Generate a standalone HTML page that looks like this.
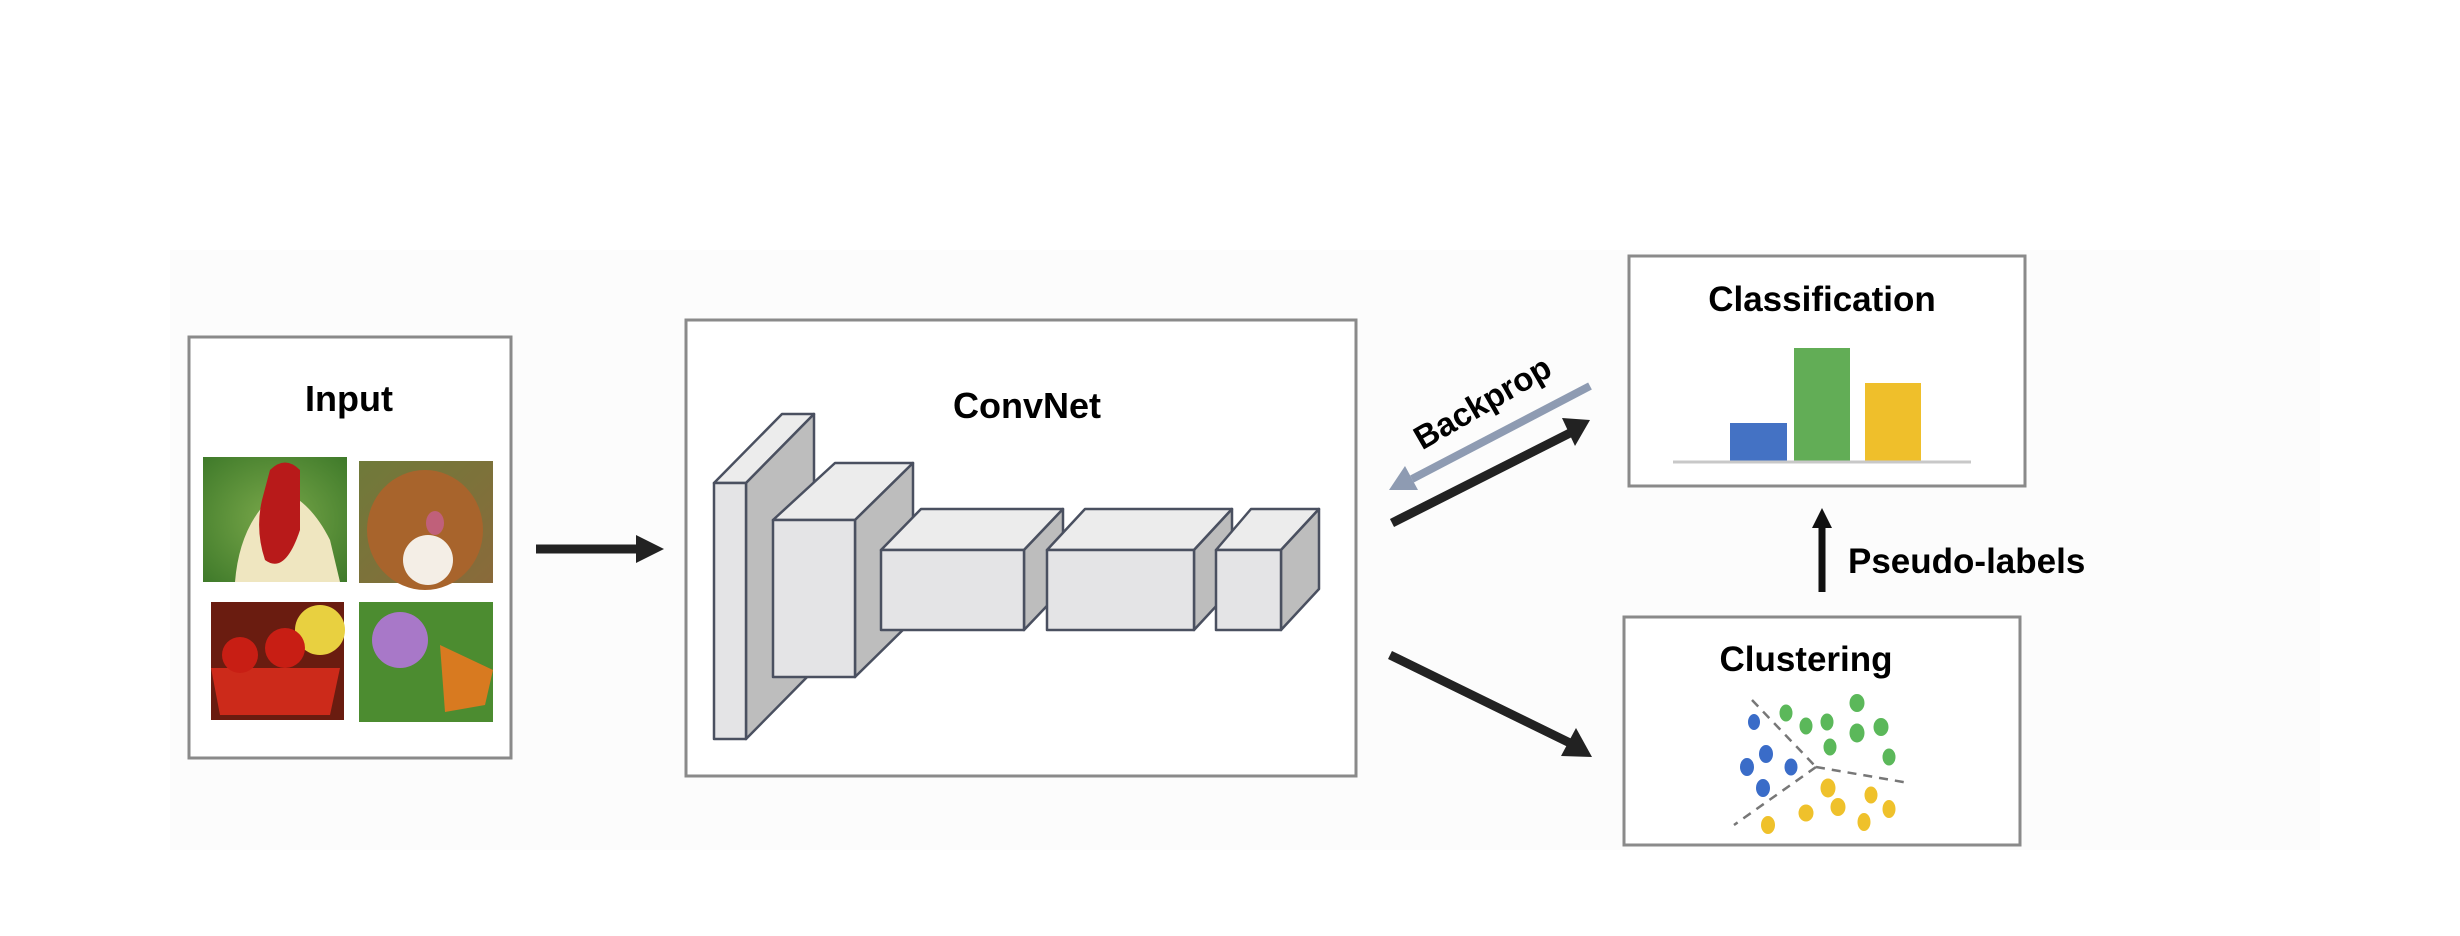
<!DOCTYPE html>
<html><head><meta charset="utf-8"><style>
html,body{margin:0;padding:0;background:#fff;}
svg{display:block;}
text{font-family:"Liberation Sans",sans-serif;font-weight:bold;fill:#000;}
</style></head><body>
<svg width="2460" height="936" viewBox="0 0 2460 936" xmlns="http://www.w3.org/2000/svg">
<defs>
<radialGradient id="gr" cx="0.5" cy="0.5" r="0.7"><stop offset="0" stop-color="#7aa84a"/><stop offset="1" stop-color="#3f7a2a"/></radialGradient>
<linearGradient id="dogbg" x1="0" y1="0" x2="1" y2="1"><stop offset="0" stop-color="#6f7a3a"/><stop offset="1" stop-color="#8a6a3a"/></linearGradient>
</defs>
<rect x="0" y="0" width="2460" height="936" fill="#fff"/>
<rect x="170" y="250" width="2150" height="600" fill="#fcfcfc"/>

<rect x="189" y="337" width="322" height="421" fill="#fff" stroke="#8a8a8a" stroke-width="3"/>
<text x="349" y="411" font-size="36" text-anchor="middle">Input</text>
<rect x="203" y="457" width="144" height="125" fill="url(#gr)"/>
<path d="M235 582 Q240 520 280 490 Q310 500 330 540 L340 582 Z" fill="#efe6c0"/>
<path d="M270 470 Q285 455 300 470 L300 530 Q285 575 265 560 Q255 530 262 500 Z" fill="#b81a1a"/>
<rect x="359" y="461" width="134" height="122" fill="url(#dogbg)"/>
<ellipse cx="425" cy="530" rx="58" ry="60" fill="#a8642c"/>
<ellipse cx="428" cy="560" rx="25" ry="25" fill="#f4eee6"/>
<ellipse cx="435" cy="523" rx="9" ry="12" fill="#c0607a"/>
<rect x="211" y="602" width="133" height="118" fill="#6a1c10"/>
<ellipse cx="320" cy="630" rx="25" ry="25" fill="#e8d040"/>
<path d="M211 668 L340 668 L330 715 L220 715 Z" fill="#cc2a1a"/>
<circle cx="240" cy="655" r="18" fill="#c81e14"/>
<circle cx="285" cy="648" r="20" fill="#c81e14"/>
<rect x="359" y="602" width="134" height="120" fill="#4c8c30"/>
<circle cx="400" cy="640" r="28" fill="#a878c8"/>
<path d="M440 645 L493 670 L485 705 L445 712 Z" fill="#d87a20"/>

<line x1="536" y1="549" x2="640" y2="549" stroke="#222" stroke-width="9"/>
<polygon points="636,535 664,549 636,563" fill="#222"/>

<rect x="686" y="320" width="670" height="456" fill="#fff" stroke="#8a8a8a" stroke-width="3"/>
<text x="1027" y="418" font-size="36" text-anchor="middle">ConvNet</text>

<g stroke="#4a5060" stroke-width="2.5" stroke-linejoin="round">
<polygon points="714,483 782,414 814,414 746,483" fill="#ececec"/>
<polygon points="746,483 814,414 814,670 746,739" fill="#bdbdbd"/>
<rect x="714" y="483" width="32" height="256" fill="#e4e4e6"/>
<polygon points="773,520 835,463 913,463 855,520" fill="#ececec"/>
<polygon points="855,520 913,463 913,620 855,677" fill="#bdbdbd"/>
<rect x="773" y="520" width="82" height="157" fill="#e4e4e6"/>
<polygon points="881,550 921,509 1063,509 1024,550" fill="#ececec"/>
<polygon points="1024,550 1063,509 1063,589 1024,630" fill="#bdbdbd"/>
<rect x="881" y="550" width="143" height="80" fill="#e4e4e6"/>
<polygon points="1047,550 1085,509 1232,509 1194,550" fill="#ececec"/>
<polygon points="1194,550 1232,509 1232,589 1194,630" fill="#bdbdbd"/>
<rect x="1047" y="550" width="147" height="80" fill="#e4e4e6"/>
<polygon points="1216,550 1251,509 1319,509 1281,550" fill="#ececec"/>
<polygon points="1281,550 1319,509 1319,589 1281,630" fill="#bdbdbd"/>
<rect x="1216" y="550" width="65" height="80" fill="#e4e4e6"/>
</g>

<line x1="1590" y1="386" x2="1412" y2="479" stroke="#8e9bb2" stroke-width="8"/>
<polygon points="1389,490 1405,466 1418,490" fill="#8e9bb2"/>
<text x="1482" y="414" font-size="33" text-anchor="middle" transform="rotate(-30 1482 402)">Backprop</text>
<line x1="1392" y1="523" x2="1570" y2="433" stroke="#222" stroke-width="9"/>
<polygon points="1562,418 1590,420 1575,446" fill="#222"/>
<line x1="1390" y1="655" x2="1570" y2="743" stroke="#222" stroke-width="9"/>
<polygon points="1576,728 1592,757 1561,756" fill="#222"/>

<rect x="1629" y="256" width="396" height="230" fill="#fff" stroke="#8a8a8a" stroke-width="3"/>
<text x="1822" y="311" font-size="35" text-anchor="middle">Classification</text>
<rect x="1730" y="423" width="57" height="39" fill="#4472c4"/>
<rect x="1794" y="348" width="56" height="114" fill="#62ad56"/>
<rect x="1865" y="383" width="56" height="79" fill="#efbf2b"/>
<line x1="1673" y1="462" x2="1971" y2="462" stroke="#c8c8c8" stroke-width="3"/>

<line x1="1822" y1="592" x2="1822" y2="525" stroke="#111" stroke-width="7"/>
<polygon points="1812,528 1822,508 1832,528" fill="#111"/>
<text x="1848" y="573" font-size="35">Pseudo-labels</text>

<rect x="1624" y="617" width="396" height="228" fill="#fff" stroke="#8a8a8a" stroke-width="3"/>
<text x="1806" y="671" font-size="35" text-anchor="middle">Clustering</text>
<g stroke="#777" stroke-width="2.5" stroke-dasharray="9,7" fill="none">
<line x1="1752" y1="700" x2="1816" y2="767"/>
<line x1="1816" y1="767" x2="1909" y2="783"/>
<line x1="1816" y1="767" x2="1734" y2="825"/>
</g>
<g fill="#3a6cc8">
<ellipse cx="1754" cy="722" rx="6" ry="8"/><ellipse cx="1766" cy="754" rx="7" ry="9"/><ellipse cx="1747" cy="767" rx="7" ry="9"/><ellipse cx="1791" cy="767" rx="6.5" ry="8.5"/><ellipse cx="1763" cy="788" rx="7" ry="9"/>
</g>
<g fill="#5bb85a">
<ellipse cx="1786" cy="713" rx="6.5" ry="8.5"/><ellipse cx="1806" cy="726" rx="6.5" ry="8.5"/><ellipse cx="1827" cy="722" rx="6.5" ry="8.5"/><ellipse cx="1857" cy="703" rx="7.5" ry="9"/><ellipse cx="1857" cy="733" rx="7.5" ry="9.5"/><ellipse cx="1881" cy="727" rx="7.5" ry="9"/><ellipse cx="1830" cy="747" rx="6.5" ry="8.5"/><ellipse cx="1889" cy="757" rx="6.5" ry="8.5"/>
</g>
<g fill="#efc12b">
<ellipse cx="1828" cy="788" rx="7.5" ry="9.5"/><ellipse cx="1871" cy="795" rx="6.5" ry="8.5"/><ellipse cx="1889" cy="809" rx="6.5" ry="9"/><ellipse cx="1838" cy="807" rx="7.5" ry="9"/><ellipse cx="1806" cy="813" rx="7.5" ry="8.5"/><ellipse cx="1768" cy="825" rx="7" ry="9"/><ellipse cx="1864" cy="822" rx="6.5" ry="9"/>
</g>
</svg>
</body></html>
